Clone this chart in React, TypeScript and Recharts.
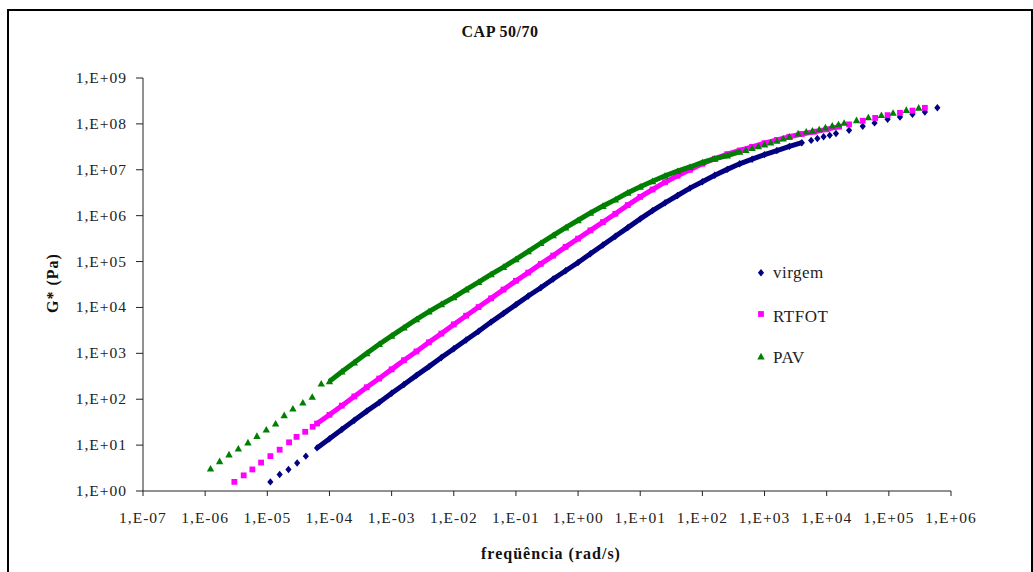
import { ScatterChart, Scatter, XAxis, YAxis } from 'recharts'

const NAVY = '#000080'
const PINK = '#ff00ff'
const GREEN = '#008000'
const SERIF = '"Liberation Serif", "Times New Roman", serif'

const X_TICKS = [1e-7, 1e-6, 1e-5, 1e-4, 1e-3, 1e-2, 1e-1, 1, 1e1, 1e2, 1e3, 1e4, 1e5, 1e6]
const Y_TICKS = [1, 1e1, 1e2, 1e3, 1e4, 1e5, 1e6, 1e7, 1e8, 1e9]

// frequency grid of the dense (overlapping) part of the master curves, rad/s
const GRID_F = [
  6.31e-5, 1e-4, 1.58e-4, 2.51e-4, 3.98e-4, 6.31e-4, 1e-3, 1.58e-3, 2.51e-3, 3.98e-3, 6.31e-3,
  1e-2, 1.58e-2, 2.51e-2, 3.98e-2, 6.31e-2, 0.1, 0.158, 0.251, 0.398, 0.631,
  1, 1.58, 2.51, 3.98, 6.31, 10, 15.8, 25.1, 39.8, 63.1,
  100, 158, 251, 398, 631, 1000, 1585, 2512, 3981, 6310, 1e4, 1.58e4,
]

// virgem
const VIRGEM_LOW_F = [1.12e-5, 1.58e-5, 2.19e-5, 3.02e-5, 4.17e-5]
const VIRGEM_LOW_G = [1.58, 2.29, 2.95, 4.07, 5.75]
const VIRGEM_MID_G = [
  8.7, 13.8, 21.9, 34.7, 55, 85, 135, 209, 331, 513, 813,
  1.26e3, 1.95e3, 3.02e3, 4.79e3, 7.41e3, 1.15e4, 1.78e4, 2.69e4, 4.17e4, 6.31e4,
  9.55e4, 1.48e5, 2.29e5, 3.55e5, 5.5e5, 8.51e5, 1.29e6, 1.91e6, 2.75e6, 3.98e6,
  5.5e6, 7.59e6, 1.02e7, 1.35e7, 1.7e7, 2.14e7, 2.63e7, 3.24e7, 3.89e7,
]
const VIRGEM_HIGH_F = [5623, 7079, 8913, 1.12e4, 1.41e4, 2.29e4, 3.8e4, 5.89e4, 9.55e4, 1.51e5, 2.4e5, 3.8e5, 6.03e5]
const VIRGEM_HIGH_G = [4.37e7, 4.79e7, 5.25e7, 5.62e7, 6.17e7, 7.24e7, 8.91e7, 1.05e8, 1.26e8, 1.41e8, 1.62e8, 1.82e8, 2.24e8]

// RTFOT
const RTFOT_LOW_F = [2.95e-6, 4.17e-6, 5.75e-6, 7.94e-6, 1.12e-5, 1.58e-5, 2.24e-5, 2.95e-5, 4.07e-5, 5.37e-5]
const RTFOT_LOW_G = [1.58, 2.19, 2.95, 4.17, 5.75, 7.94, 11.5, 15.1, 19.5, 25.1]
const RTFOT_MID_G = [
  29.5, 45.7, 72.4, 115, 182, 282, 447, 708, 1.1e3, 1.74e3, 2.69e3,
  4.27e3, 6.61e3, 1.02e4, 1.58e4, 2.45e4, 3.8e4, 5.75e4, 8.91e4, 1.35e5, 2.09e5,
  3.16e5, 4.79e5, 7.24e5, 1.1e6, 1.7e6, 2.57e6, 3.72e6, 5.37e6, 7.41e6, 1e7,
  1.35e7, 1.74e7, 2.19e7, 2.63e7, 3.16e7, 3.8e7, 4.47e7, 5.25e7, 6.03e7, 6.76e7, 7.59e7, 8.71e7,
]
const RTFOT_HIGH_F = [2.29e4, 3.8e4, 6.03e4, 9.55e4, 1.51e5, 2.4e5, 3.8e5]
const RTFOT_HIGH_G = [9.77e7, 1.17e8, 1.35e8, 1.55e8, 1.74e8, 1.95e8, 2.24e8]

// PAV
const PAV_LOW_F = [1.22e-6, 1.71e-6, 2.42e-6, 3.42e-6, 4.88e-6, 6.81e-6, 9.64e-6, 1.36e-5, 1.87e-5, 2.58e-5, 3.73e-5, 5.28e-5, 7.38e-5]
const PAV_LOW_G = [3.08, 4.44, 6.22, 8.39, 11.4, 15.8, 21.8, 29.4, 44.7, 62.5, 84.5, 112, 219]
const PAV_MID_G = [
  245, 398, 631, 1e3, 1.58e3, 2.4e3, 3.63e3, 5.5e3, 8.13e3, 1.17e4,
  1.66e4, 2.45e4, 3.55e4, 5.25e4, 7.59e4, 1.12e5, 1.66e5, 2.51e5, 3.72e5, 5.5e5,
  7.94e5, 1.15e6, 1.62e6, 2.24e6, 3.16e6, 4.27e6, 5.62e6, 7.41e6, 9.33e6, 1.15e7,
  1.45e7, 1.74e7, 2.04e7, 2.45e7,
]
const PAV_HIGH_F = [501, 631, 794, 1000, 1259, 1585, 1995, 2512, 3467, 4677, 5888, 7586, 9550, 1.23e4, 1.55e4, 1.91e4, 3.02e4, 4.68e4, 7.59e4, 1.17e5, 1.91e5, 3.02e5]
const PAV_HIGH_G = [2.69e7, 2.95e7, 3.24e7, 3.55e7, 3.89e7, 4.27e7, 4.79e7, 5.25e7, 6.17e7, 6.76e7, 7.08e7, 7.59e7, 8.32e7, 9.12e7, 9.77e7, 1.05e8, 1.2e8, 1.38e8, 1.55e8, 1.74e8, 2e8, 2.24e8]

const pts = (f: number[], g: number[]) => g.map((v, i) => ({ f: f[i], g: v }))

const virgemLow = pts(VIRGEM_LOW_F, VIRGEM_LOW_G)
const virgemMid = pts(GRID_F, VIRGEM_MID_G)
const virgemHigh = pts(VIRGEM_HIGH_F, VIRGEM_HIGH_G)
const rtfotLow = pts(RTFOT_LOW_F, RTFOT_LOW_G)
const rtfotMid = pts(GRID_F, RTFOT_MID_G)
const rtfotHigh = pts(RTFOT_HIGH_F, RTFOT_HIGH_G)
const pavLow = pts(PAV_LOW_F, PAV_LOW_G)
const pavMid = pts(GRID_F.slice(1), PAV_MID_G)
const pavHigh = pts(PAV_HIGH_F, PAV_HIGH_G)

const Diamond = ({ cx, cy }: any) => (
  <polygon points={`${cx},${cy - 3.7} ${cx + 3.1},${cy} ${cx},${cy + 3.7} ${cx - 3.1},${cy}`} fill={NAVY} />
)
const Square = ({ cx, cy }: any) => <rect x={cx - 2.9} y={cy - 2.9} width={5.8} height={5.8} fill={PINK} />
const Triangle = ({ cx, cy }: any) => (
  <polygon points={`${cx},${cy - 3.7} ${cx + 3.7},${cy + 2.9} ${cx - 3.7},${cy + 2.9}`} fill={GREEN} />
)

const expLabel = (v: number) => {
  const e = Math.round(Math.log10(v))
  return `1,E${e < 0 ? '-' : '+'}${String(Math.abs(e)).padStart(2, '0')}`
}

const XTick = ({ x, y, payload }: any) => (
  <text x={x} y={y + 25} textAnchor="middle" fontFamily={SERIF} fontSize={15.5} letterSpacing={1} fill="#222">
    {expLabel(payload.value)}
  </text>
)
const YTick = ({ x, y, payload }: any) => (
  <text x={x - 7} y={y + 5} textAnchor="end" fontFamily={SERIF} fontSize={15.5} letterSpacing={1} fill="#222">
    {expLabel(payload.value)}
  </text>
)

export default function App() {
  return (
    <div style={{ position: 'absolute', left: 0, top: 0, width: 1033, height: 572, overflow: 'hidden', background: '#fff' }}>
      <div
        style={{
          position: 'absolute', left: 7, top: 9, width: 1026, height: 563, boxSizing: 'border-box',
          borderTop: '2px solid #000', borderLeft: '2px solid #000', borderRight: '2px solid #000',
        }}
      />
      <div style={{ position: 'absolute', left: 0, top: 0 }}>
        <ScatterChart width={1033} height={572} margin={{ top: 78, right: 82, bottom: 41, left: 63 }}>
          <XAxis
            dataKey="f" type="number" scale="log" domain={[1e-7, 1e6]} ticks={X_TICKS} allowDataOverflow
            height={40} tickSize={5} tick={<XTick />} stroke="#222" interval={0}
          />
          <YAxis
            dataKey="g" type="number" scale="log" domain={[1, 1e9]} ticks={Y_TICKS} allowDataOverflow
            width={80} tickSize={7} tick={<YTick />} stroke="#222" interval={0}
          />
          <Scatter data={virgemLow} shape={Diamond} isAnimationActive={false} />
          <Scatter data={virgemMid} shape={Diamond} line={{ stroke: NAVY, strokeWidth: 5 }} lineType="joint" isAnimationActive={false} />
          <Scatter data={virgemHigh} shape={Diamond} isAnimationActive={false} />
          <Scatter data={rtfotLow} shape={Square} isAnimationActive={false} />
          <Scatter data={rtfotMid} shape={Square} line={{ stroke: PINK, strokeWidth: 5 }} lineType="joint" isAnimationActive={false} />
          <Scatter data={rtfotHigh} shape={Square} isAnimationActive={false} />
          <Scatter data={pavLow} shape={Triangle} isAnimationActive={false} />
          <Scatter data={pavMid} shape={Triangle} line={{ stroke: GREEN, strokeWidth: 5 }} lineType="joint" isAnimationActive={false} />
          <Scatter data={pavHigh} shape={Triangle} isAnimationActive={false} />
        </ScatterChart>
      </div>
      <svg width={1033} height={572} style={{ position: 'absolute', left: 0, top: 0, pointerEvents: 'none' }}>
        <text x={500} y={37} textAnchor="middle" fontFamily={SERIF} fontWeight="bold" fontSize={16} letterSpacing={0.5} fill="#111">
          CAP 50/70
        </text>
        <text x={58} y={283} transform="rotate(-90 58 283)" textAnchor="middle" fontFamily={SERIF} fontWeight="bold" fontSize={16} letterSpacing={1} fill="#111">
          G* (Pa)
        </text>
        <text x={551} y={559} textAnchor="middle" fontFamily={SERIF} fontWeight="bold" fontSize={16} letterSpacing={1} fill="#111">
          freqüência (rad/s)
        </text>
        <Diamond cx={761} cy={272.7} />
        <text x={773} y={277.5} fontFamily={SERIF} fontSize={17} letterSpacing={0.5} fill="#222">virgem</text>
        <Square cx={761} cy={314} />
        <text x={773} y={321.5} fontFamily={SERIF} fontSize={17} letterSpacing={0.5} fill="#222">RTFOT</text>
        <Triangle cx={761} cy={356.5} />
        <text x={773} y={362.7} fontFamily={SERIF} fontSize={17} letterSpacing={0.5} fill="#222">PAV</text>
      </svg>
    </div>
  )
}
